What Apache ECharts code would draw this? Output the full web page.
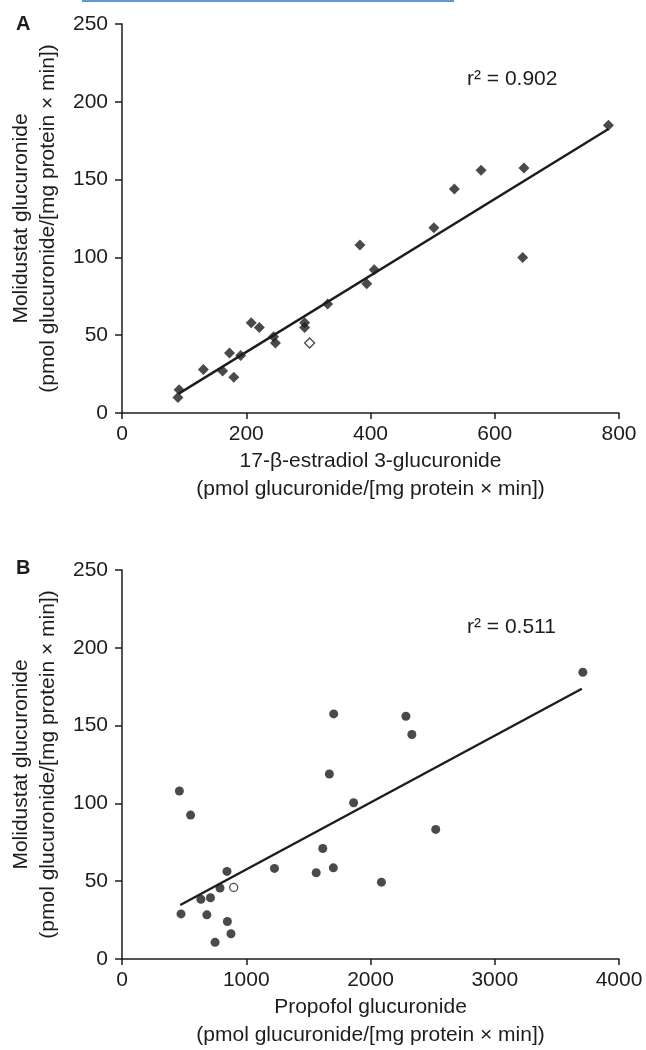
<!DOCTYPE html>
<html>
<head>
<meta charset="utf-8">
<script src="https://cdn.jsdelivr.net/npm/echarts@6/dist/echarts.min.js"></script>
<style>
html,body{margin:0;padding:0;background:#fff;}
#chart{width:646px;height:1050px;}
</style>
</head>
<body>
<div id="chart"></div>
<script>
// Panel A: 17-β-estradiol 3-glucuronide vs molidustat glucuronide
const aFilledX = [90, 92, 131, 162, 173, 180, 191, 208, 221, 244, 247, 294, 294, 331, 383, 394, 406, 502, 535, 578, 645, 647, 783];
const aFilledY = [10, 15, 28, 27, 38.5, 23, 37, 58, 55, 49, 45, 58, 55, 70, 108, 83, 92, 119, 144, 156, 100, 157.5, 185];
const aOpenX = [302];
const aOpenY = [45];
const aFitX = [92, 783];
const aFitY = [12.6, 182.5];
const aR2 = 'r² = 0.902';

// Panel B: propofol glucuronide vs molidustat glucuronide
const bFilledX = [462, 552, 475, 635, 683, 712, 749, 789, 845, 848, 877, 1227, 1563, 1616, 1669, 1701, 1704, 1864, 2088, 2285, 2333, 2525, 3709];
const bFilledY = [108, 92.5, 29, 38.4, 28.4, 39.4, 10.7, 45.6, 56.3, 24.1, 16.2, 58.2, 55.4, 71, 118.9, 58.6, 157.5, 100.4, 49.4, 156, 144.3, 83.3, 184.3];
const bOpenX = [899];
const bOpenY = [46];
const bFitX = [469, 3701];
const bFitY = [34.7, 173.7];
const bR2 = 'r² = 0.511';

const yTitle = 'Molidustat glucuronide\n(pmol glucuronide/[mg protein × min])';
const aXTitle = '17-β-estradiol 3-glucuronide\n(pmol glucuronide/[mg protein × min])';
const bXTitle = 'Propofol glucuronide\n(pmol glucuronide/[mg protein × min])';

const zip = (xs, ys) => xs.map((x, i) => [x, ys[i]]);
const ink = '#1e1c1d';
const FONT = 'Liberation Sans, Arial, sans-serif';

function xAxisCfg(idx, max, interval, name) {
  return {
    gridIndex: idx, type: 'value', min: 0, max: max, interval: interval,
    name: name, nameLocation: 'middle', nameGap: 34,
    nameTextStyle: {color: ink, fontSize: 21, fontFamily: FONT, lineHeight: 28},
    axisLine: {show: true, onZero: false, lineStyle: {color: ink, width: 1.5}},
    axisTick: {show: true, inside: false, length: 6, lineStyle: {color: ink, width: 1.5}},
    axisLabel: {color: ink, fontSize: 21, fontFamily: FONT, margin: 11, formatter: v => String(v)},
    splitLine: {show: false}
  };
}
function yAxisCfg(idx) {
  return {
    gridIndex: idx, type: 'value', min: 0, max: 250, interval: 50,
    name: yTitle, nameLocation: 'middle', nameGap: 60, nameRotate: 90,
    nameTextStyle: {color: ink, fontSize: 21, fontFamily: FONT, lineHeight: 27},
    axisLine: {show: true, onZero: false, lineStyle: {color: ink, width: 1.5}},
    axisTick: {show: true, inside: false, length: 7, lineStyle: {color: ink, width: 1.5}},
    axisLabel: {color: ink, fontSize: 21, fontFamily: FONT, margin: 14, formatter: v => String(v)},
    splitLine: {show: false}
  };
}

const chart = echarts.init(document.getElementById('chart'), null, {renderer: 'canvas'});
chart.setOption({
  backgroundColor: '#ffffff',
  animation: false,
  grid: [
    {left: 119, top: 24, width: 500, height: 389},
    {left: 119, top: 570, width: 500, height: 391}
  ],
  xAxis: [xAxisCfg(0, 800, 200, aXTitle), xAxisCfg(1, 4000, 1000, bXTitle)],
  yAxis: [yAxisCfg(0), yAxisCfg(1)],
  series: [
    {type: 'line', xAxisIndex: 0, yAxisIndex: 0, data: zip(aFitX, aFitY), symbol: 'none',
      lineStyle: {color: ink, width: 2.4}, z: 2},
    {type: 'scatter', xAxisIndex: 0, yAxisIndex: 0, data: zip(aFilledX, aFilledY), symbol: 'diamond', symbolSize: 11,
      itemStyle: {color: ink}, z: 3},
    {type: 'scatter', xAxisIndex: 0, yAxisIndex: 0, data: zip(aOpenX, aOpenY), symbol: 'diamond', symbolSize: 10,
      itemStyle: {color: '#ffffff', borderColor: ink, borderWidth: 1.3}, z: 3},
    {type: 'line', xAxisIndex: 1, yAxisIndex: 1, data: zip(bFitX, bFitY), symbol: 'none',
      lineStyle: {color: ink, width: 2.4}, z: 2},
    {type: 'scatter', xAxisIndex: 1, yAxisIndex: 1, data: zip(bFilledX, bFilledY), symbol: 'circle', symbolSize: 9,
      itemStyle: {color: ink}, z: 3},
    {type: 'scatter', xAxisIndex: 1, yAxisIndex: 1, data: zip(bOpenX, bOpenY), symbol: 'circle', symbolSize: 8,
      itemStyle: {color: '#ffffff', borderColor: ink, borderWidth: 1.3}, z: 3}
  ],
  graphic: [
    {type: 'rect', left: 82, top: 0, shape: {width: 372, height: 2}, style: {fill: '#5b9bd5'}},
    {type: 'text', left: 16, top: 14, style: {text: 'A', fill: ink, font: 'bold 20px ' + FONT}},
    {type: 'text', left: 16, top: 558, style: {text: 'B', fill: ink, font: 'bold 20px ' + FONT}},
    {type: 'text', left: 467, top: 69, style: {text: aR2, fill: ink, font: '21px ' + FONT}},
    {type: 'text', left: 467, top: 617, style: {text: bR2, fill: ink, font: '21px ' + FONT}}
  ]
});
</script>
</body>
</html>
